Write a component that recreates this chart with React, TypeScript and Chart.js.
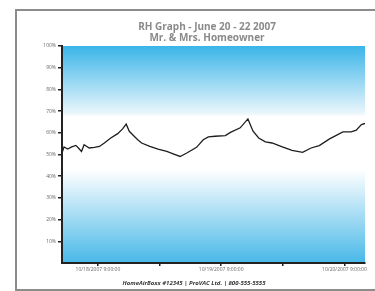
import React, { useEffect, useRef } from "react";
import { Chart, registerables } from "chart.js";

Chart.register(...registerables);

const titleLines = ["RH Graph - June 20 - 22 2007", "Mr. & Mrs. Homeowner"];
const footerText = "HomeAirBoxx #12345 | ProVAC Ltd. | 800-555-5555";

// hours relative to 10/18/2007 9:00:00
const hours = [
  -7, -6.6, -5.9, -5.1, -4.3, -3.8, -3.2, -2.7, -1.7, -0.7, 0.3, 1.25, 2.5, 3.85, 4.8, 5.5,
  6.1, 7.2, 7.75, 8.5, 10.1, 11.7, 13.4, 14.65, 16, 17.3, 19.2, 20.5, 21.5, 22.8, 24.8,
  25.8, 27.7, 29.2, 30.2, 31.3, 32.6, 33.9, 35.9, 37.8, 39.85, 41.5, 43.1, 45.1, 47.7,
  49.3, 50.3, 51.3, 52,
];
const rh = [
  50.7, 53.5, 52.5, 53.5, 54.2, 53, 51.4, 54.5, 53, 53.3, 53.7, 55.3, 57.6, 59.6, 61.8, 64,
  60.7, 58.1, 56.8, 55.3, 53.7, 52.5, 51.4, 50.3, 49.1, 50.7, 53.3, 56.8, 58.1, 58.4, 58.7,
  60.2, 62.3, 66.4, 60.7, 57.6, 55.8, 55.3, 53.5, 51.9, 51, 53, 54.1, 57.2, 60.4,
  60.4, 61.2, 63.8, 64.3,
];

const xTickHours = [0, 12, 24, 36, 48];
const xTickLabels: Record<number, string> = {
  0: "10/18/2007 9:00:00",
  24: "10/19/2007 9:00:00",
  48: "10/20/2007 9:00:00",
};
const yTickValues = [10, 20, 30, 40, 50, 60, 70, 80, 90, 100];

const bgPlugin = {
  id: "bgGradient",
  beforeDraw(chart: any) {
    const { ctx, chartArea } = chart;
    if (!chartArea) return;
    const { left, top, right, bottom } = chartArea;
    const g = ctx.createLinearGradient(0, top, 0, bottom);
    g.addColorStop(0, "#3ab5e8");
    g.addColorStop(0.31, "#eaf6fc");
    g.addColorStop(0.325, "#ffffff");
    g.addColorStop(0.57, "#ffffff");
    g.addColorStop(1, "#48b8e8");
    ctx.save();
    ctx.fillStyle = g;
    ctx.fillRect(left, top, right - left, bottom - top);
    ctx.restore();
  },
};

const textPlugin = {
  id: "texts",
  afterDraw(chart: any) {
    const { ctx } = chart;
    ctx.save();
    ctx.textAlign = "center";
    ctx.textBaseline = "alphabetic";
    ctx.fillStyle = "#8a8a8a";
    ctx.font = "bold 10px 'Open Sans'";
    ctx.fillText(titleLines[0], 207, 29.5);
    ctx.fillText(titleLines[1], 207, 41);
    ctx.fillStyle = "#333333";
    ctx.font = "italic bold 6px 'Open Sans'";
    ctx.fillText(footerText, 194, 284.5);
    ctx.restore();
  },
};

export default function App() {
  const ref = useRef<HTMLCanvasElement | null>(null);
  useEffect(() => {
    if (!ref.current) return;
    const chart = new Chart(ref.current, {
      type: "line",
      data: {
        datasets: [
          {
            data: hours.map((h, i) => ({ x: h, y: rh[i] })),
            borderColor: "#1e1e1e",
            borderWidth: 1.3,
            pointRadius: 0,
            tension: 0,
            fill: false,
          },
        ],
      },
      options: {
        animation: false,
        responsive: false,
        events: [],
        layout: { padding: { left: 20, right: 10, top: 46, bottom: 14 } },
        plugins: {
          legend: { display: false },
          title: { display: false },
          tooltip: { enabled: false },
        },
        scales: {
          x: {
            type: "linear",
            min: -7,
            max: 52,
            afterBuildTicks(scale: any) {
              scale.ticks = xTickHours.map((v) => ({ value: v }));
            },
            afterFit(scale: any) {
              scale.height = 14;
            },
            border: { display: true, color: "#222222", width: 2 },
            grid: {
              display: true,
              drawOnChartArea: false,
              drawTicks: true,
              tickLength: 3,
              color: "#222222",
              lineWidth: 1.5,
            },
            ticks: {
              autoSkip: false,
              maxRotation: 0,
              padding: 1,
              color: "#666666",
              font: { family: "'Open Sans'", size: 5 },
              callback: (v: any) => xTickLabels[v as number] ?? "",
            },
          },
          y: {
            min: 0,
            max: 100,
            afterBuildTicks(scale: any) {
              scale.ticks = yTickValues.map((v) => ({ value: v }));
            },
            afterFit(scale: any) {
              scale.width = 42;
            },
            border: { display: true, color: "#222222", width: 2 },
            grid: {
              display: true,
              drawOnChartArea: false,
              drawTicks: true,
              tickLength: 4,
              color: "#222222",
              lineWidth: 1.5,
            },
            ticks: {
              padding: 2,
              color: "#666666",
              font: { family: "'Open Sans'", size: 5 },
              callback: (v: any) => v + "%",
            },
          },
        },
      },
      plugins: [bgPlugin, textPlugin],
    });
    return () => chart.destroy();
  }, []);

  return (
    <div
      style={{
        position: "fixed",
        left: 0,
        top: 0,
        width: 375,
        height: 291,
        overflow: "hidden",
        background: "#ffffff",
      }}
    >
      <div
        style={{
          position: "absolute",
          left: 15,
          top: 9,
          width: 500,
          height: 278,
          border: "2px solid #8c8c8c",
        }}
      />
      <canvas
        ref={ref}
        width={375}
        height={291}
        style={{ position: "absolute", left: 0, top: 0, width: 375, height: 291 }}
      />
    </div>
  );
}
